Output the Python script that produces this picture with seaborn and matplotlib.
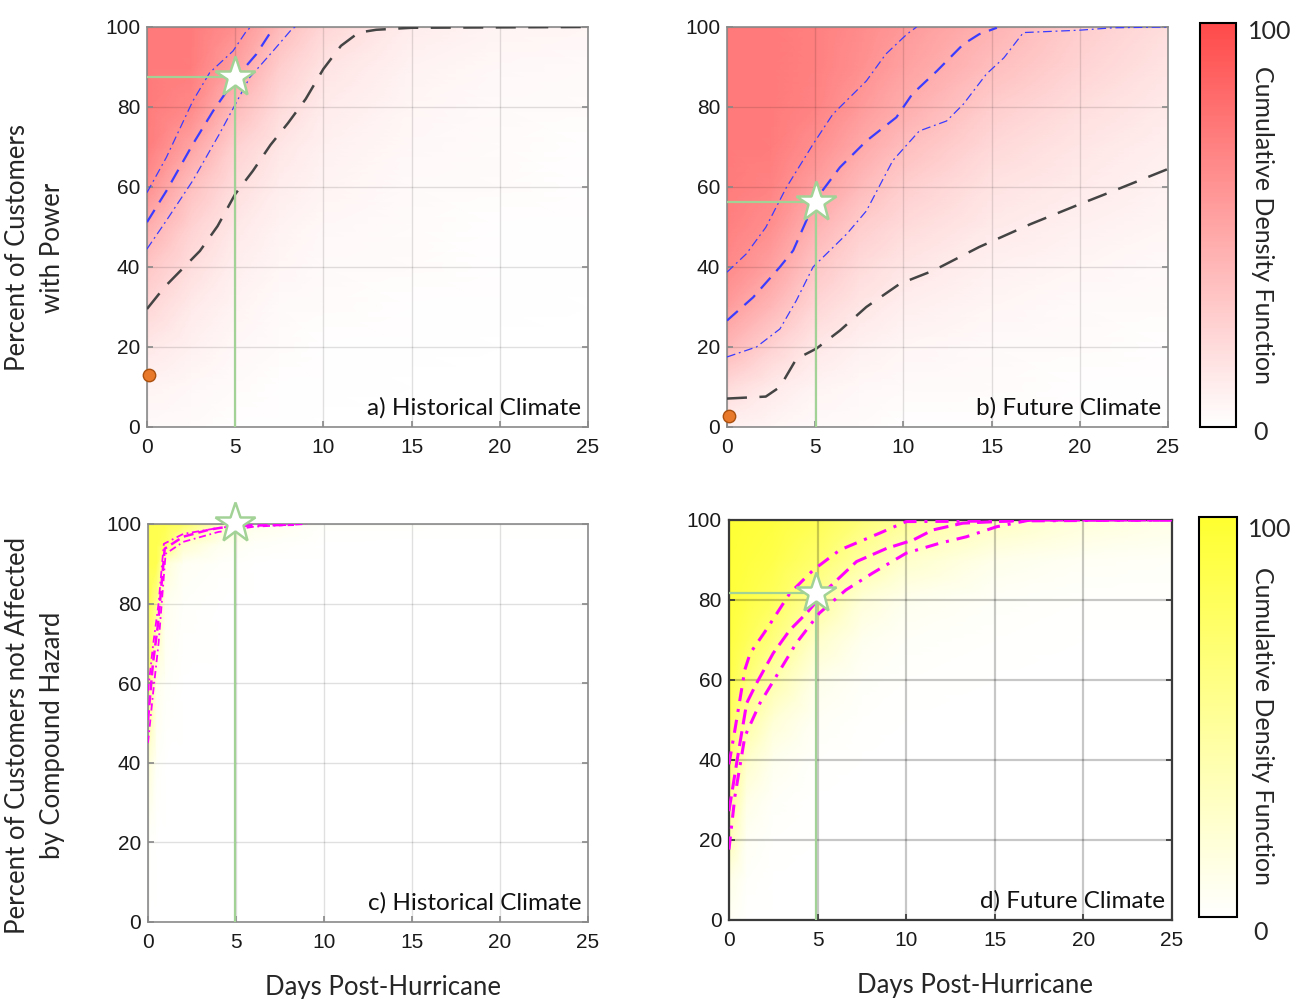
import matplotlib.pyplot as plt
import numpy as np
import seaborn as sns
from matplotlib.colors import LinearSegmentedColormap

# ---- percentile curves (days, percent) ----
# a) historical, customers with power
a_black_x = [0, 1, 2, 3, 4, 5, 6, 7, 8, 9, 10, 11, 12, 13, 15, 25]
a_black_y = [29.5, 35, 39.5, 44, 50.2, 58.2, 64, 70.5, 76, 82, 89.5, 95.3, 98.6, 99.3, 99.8, 100]
a_med_x = [0, 1.1, 2.6, 3.75, 5.07, 6.2, 7.2]
a_med_y = [51.2, 59, 70.7, 79, 87.4, 93.2, 100]
a_up_x = [0, 1.1, 2.6, 3.56, 4.88, 5.64, 5.9]
a_up_y = [58.6, 67.4, 81.5, 88.6, 94, 99, 100]
a_lo_x = [0, 1.1, 2.6, 4.1, 5.83, 7.15, 8.2, 8.4]
a_lo_y = [44.5, 51.6, 61.6, 73.2, 87.4, 94, 99.4, 100]

# b) future, customers with power
b_black_x = [0, 2.2, 3, 3.93, 5.07, 6.4, 7.9, 9.8, 11.7, 14.3, 17.2, 20, 21.9, 25]
b_black_y = [7.1, 7.6, 10, 17, 19.6, 24.1, 30, 35.8, 39.1, 45, 50.7, 55.7, 59, 64.5]
b_med_x = [0, 1.48, 3, 3.75, 4.5, 5.26, 6.4, 7.9, 9.6, 10.5, 11.9, 13.4, 14.3, 15.3]
b_med_y = [26.6, 32.4, 40, 44.1, 51.6, 58.2, 64.9, 71.5, 77.4, 83.2, 89, 95.7, 98.2, 99.8]
b_up_x = [0, 1.1, 2.2, 3.37, 4.88, 6, 7.9, 9, 10.2, 10.75]
b_up_y = [38.7, 43.3, 49.9, 59.9, 70.7, 78.2, 86.5, 93.2, 98.2, 100]
b_lo_x = [0, 1.67, 3, 3.93, 4.88, 6.8, 7.9, 9.4, 10.9, 12.45, 13.4, 14.7, 15.7, 16.8, 20, 21.9, 25]
b_lo_y = [17.5, 20, 24.5, 31.6, 40, 48.3, 54, 66.6, 74, 76.5, 80.7, 88.2, 92.3, 98.6, 99.2, 99.8, 100]

# c) historical, customers not affected by compound hazard
c_med_x = [0, 0.28, 0.57, 0.95, 2, 3.5, 4.8, 8.3]
c_med_y = [50.7, 64.9, 74.9, 93.8, 96.8, 98.6, 99.5, 99.8]
c_up_x = [0, 0.3, 0.6, 0.9, 2, 4, 6]
c_up_y = [58, 70, 80, 95, 97.5, 99, 100]
c_lo_x = [0, 0.3, 0.6, 1.0, 2, 4, 6, 9]
c_lo_y = [45, 58, 70, 92.5, 95.5, 98, 99.3, 100]

# d) future, customers not affected by compound hazard
d_med_x = [0, 0.53, 1.0, 1.56, 2.5, 3.44, 4.38, 5.5, 7.2, 8.9, 10.4, 11.5, 13.2, 17, 25]
d_med_y = [27.2, 41.8, 54.2, 59.2, 66.7, 72.5, 76.7, 82.5, 89.6, 92.9, 95, 97.5, 99.2, 100, 100]
d_up_x = [0, 0.34, 0.9, 1.2, 2.1, 3.44, 4.76, 6.26, 8.5, 10, 25]
d_up_y = [38.9, 47.6, 62.6, 66.7, 72.5, 81.7, 87.5, 92.5, 96.7, 99.6, 100]
d_lo_x = [0, 0.34, 0.9, 1.75, 2.9, 3.8, 5.1, 6.6, 8.1, 10, 11.9, 13.4, 15.1, 17, 25]
d_lo_y = [17.6, 31, 45.9, 54.2, 62.6, 69.2, 76.7, 82.5, 86.7, 91.7, 94.2, 95.8, 98.3, 100, 100]

# observed / reference points
stars = {"a": (4.98, 87.5), "b": (5.03, 56.2), "c": (4.92, 100.2), "d": (4.94, 81.7)}
dots = {"a": (0.1, 12.9), "b": (0.1, 2.7)}

# ---- background CDF shading (0-100), one column per day node, pct from bottom up ----
a_days = [0, 2.5, 5, 7.5, 10, 15, 20, 25]
a_pcts = [0, 10, 20, 30, 40, 50, 60, 70, 80, 90, 100]
a_field = [
    [3, 6, 13, 22, 32, 45, 62, 72, 73, 73, 73],
    [2, 4, 8, 12, 18, 25, 35, 50, 65, 72, 73],
    [1, 2, 4, 6, 9, 13, 18, 25, 38, 52, 62],
    [1, 1, 2, 3, 5, 7, 10, 14, 20, 28, 38],
    [0, 1, 1, 2, 3, 4, 6, 8, 11, 15, 22],
    [0, 0, 1, 1, 2, 2, 3, 4, 5, 7, 10],
    [0, 0, 0, 1, 1, 1, 2, 2, 3, 4, 6],
    [0, 0, 0, 0, 1, 1, 1, 1, 2, 3, 5],
]

b_days = [0, 2.5, 5, 7.5, 10, 15, 20, 25]
b_pcts = [0, 10, 20, 30, 40, 50, 60, 70, 80, 90, 100]
b_field = [
    [8, 20, 40, 55, 65, 70, 72, 73, 73, 73, 73],
    [5, 12, 25, 40, 52, 62, 68, 72, 73, 73, 73],
    [3, 6, 13, 22, 32, 42, 53, 62, 68, 70, 70],
    [2, 4, 8, 14, 20, 28, 38, 48, 56, 62, 64],
    [1, 3, 5, 9, 14, 20, 27, 36, 45, 52, 56],
    [1, 2, 3, 5, 8, 12, 16, 21, 28, 36, 42],
    [0, 1, 2, 3, 5, 8, 11, 14, 18, 24, 28],
    [0, 1, 1, 2, 3, 5, 7, 9, 12, 15, 18],
]

c_days = [0, 0.5, 1, 2, 4, 6, 10, 25]
c_pcts = [0, 20, 40, 60, 80, 90, 95, 100]
c_field = [
    [0, 2, 20, 70, 85, 85, 85, 85],
    [0, 0, 3, 10, 50, 85, 85, 85],
    [0, 0, 0, 3, 8, 20, 75, 85],
    [0, 0, 0, 0, 2, 5, 25, 75],
    [0, 0, 0, 0, 0, 2, 8, 30],
    [0, 0, 0, 0, 0, 0, 3, 10],
    [0, 0, 0, 0, 0, 0, 0, 2],
    [0, 0, 0, 0, 0, 0, 0, 0],
]

d_days = [0, 1, 2.5, 5, 7.5, 10, 15, 20, 25]
d_pcts = [0, 10, 20, 30, 40, 50, 60, 70, 80, 90, 100]
d_field = [
    [5, 12, 35, 55, 70, 80, 88, 92, 95, 96, 97],
    [0, 2, 5, 12, 25, 45, 65, 80, 88, 92, 95],
    [0, 0, 1, 3, 8, 20, 40, 62, 78, 87, 92],
    [0, 0, 0, 0, 1, 4, 10, 25, 48, 70, 82],
    [0, 0, 0, 0, 0, 1, 3, 8, 18, 45, 65],
    [0, 0, 0, 0, 0, 0, 1, 3, 8, 25, 50],
    [0, 0, 0, 0, 0, 0, 0, 1, 3, 10, 30],
    [0, 0, 0, 0, 0, 0, 0, 0, 1, 5, 18],
    [0, 0, 0, 0, 0, 0, 0, 0, 1, 3, 12],
]

panel_titles = {"a": "a) Historical Climate", "b": "b) Future Climate",
                "c": "c) Historical Climate", "d": "d) Future Climate"}

sns.set_theme(style="white")
plt.rcParams["font.family"] = ["Liberation Sans", "DejaVu Sans"]
LABEL_FONT = ["Lato", "DejaVu Sans"]

reds = LinearSegmentedColormap.from_list("cdf_red", ["#ffffff", "#ff4a4a"])
yellows = LinearSegmentedColormap.from_list("cdf_yel", ["#ffffff", "#ffff30"])

GREEN = "#a2d296"
BLUE = "#3a3cff"
MAGENTA = "#ff00ff"

fig = plt.figure(figsize=(13.04, 9.99), dpi=100)
axes = {
    "a": fig.add_axes([0.1127, 0.5726, 0.3382, 0.4004]),
    "b": fig.add_axes([0.5575, 0.5726, 0.3382, 0.4004]),
    "c": fig.add_axes([0.1135, 0.0771, 0.3374, 0.3984]),
    "d": fig.add_axes([0.5590, 0.0791, 0.3397, 0.4004]),
}
fields = {
    "a": (a_days, a_pcts, a_field, reds),
    "b": (b_days, b_pcts, b_field, reds),
    "c": (c_days, c_pcts, c_field, yellows),
    "d": (d_days, d_pcts, d_field, yellows),
}

meshes = {}
for key, ax in axes.items():
    days, pcts, field, cmap = fields[key]
    X, Y = np.meshgrid(days, pcts)
    C = np.array(field, dtype=float).T
    meshes[key] = ax.pcolormesh(X, Y, C, cmap=cmap, vmin=0, vmax=100,
                                shading="gouraud", zorder=0.5)
    ax.set_xlim(0, 25)
    ax.set_ylim(0, 100)
    ax.set_xticks([0, 5, 10, 15, 20, 25])
    ax.set_yticks([0, 20, 40, 60, 80, 100])
    ax.set_axisbelow("line")
    dark = key == "d"
    ax.grid(True, color="#000000", alpha=0.22 if dark else 0.12, lw=1.6 if dark else 1.0)
    for sp in ax.spines.values():
        sp.set_color("#3a3a3a" if dark else "#8a8a8a")
        sp.set_linewidth(1.6 if dark else 1.2)
    ax.tick_params(direction="in", length=4, width=1.2, labelsize=15,
                   colors="#333333" if dark else "#888888", labelcolor="#1a1a1a",
                   left=True, right=True, bottom=True, top=False)
    ax.tick_params(axis="x", pad=8)
    ax.tick_params(axis="y", pad=5)

# percentile curves
def draw(ax, x, y, color, lw, dashes):
    sns.lineplot(x=x, y=y, ax=ax, color=color, lw=lw, dashes=dashes,
                 sort=False, estimator=None, zorder=3)

BLACK_DASH = (8, 5)
draw(axes["a"], a_black_x, a_black_y, "#444444", 1.8, BLACK_DASH)
draw(axes["a"], a_med_x, a_med_y, BLUE, 1.6, (6.5, 4))
draw(axes["a"], a_up_x, a_up_y, BLUE, 0.9, (7, 3, 1.5, 3))
draw(axes["a"], a_lo_x, a_lo_y, BLUE, 0.9, (7, 3, 1.5, 3))

draw(axes["b"], b_black_x, b_black_y, "#444444", 1.8, BLACK_DASH)
draw(axes["b"], b_med_x, b_med_y, BLUE, 1.6, (6.5, 4))
draw(axes["b"], b_up_x, b_up_y, BLUE, 0.9, (7, 3, 1.5, 3))
draw(axes["b"], b_lo_x, b_lo_y, BLUE, 0.9, (7, 3, 1.5, 3))

draw(axes["c"], c_med_x, c_med_y, MAGENTA, 1.8, (4, 2))
draw(axes["c"], c_up_x, c_up_y, MAGENTA, 1.3, (4, 2, 1, 2))
draw(axes["c"], c_lo_x, c_lo_y, MAGENTA, 1.3, (4, 2, 1, 2))

draw(axes["d"], d_med_x, d_med_y, MAGENTA, 2.2, (4.9, 2.3))
draw(axes["d"], d_up_x, d_up_y, MAGENTA, 2.2, (4.3, 2.6, 1, 2.6))
draw(axes["d"], d_lo_x, d_lo_y, MAGENTA, 2.2, (4.3, 2.6, 1, 2.6))

# reference star with guide lines
for key, ax in axes.items():
    sx, sy = stars[key]
    if sy < 100:
        ax.plot([0, sx], [sy, sy], color=GREEN, lw=1.6, zorder=4)
    ax.plot([sx, sx], [0, min(sy, 100)], color=GREEN, lw=1.6, zorder=4)
    ax.plot([sx], [sy], marker="*", ms=30, mfc="white", mec=GREEN, mew=1.8,
            zorder=6, clip_on=False)
    ax.text(0.985, 0.02, panel_titles[key], transform=ax.transAxes, ha="right",
            va="bottom", fontsize=17.5, family=LABEL_FONT, color="#111111", zorder=7)

for key, (dx, dy) in dots.items():
    sns.scatterplot(x=[dx], y=[dy], ax=axes[key], s=80, color="#e8782a",
                    edgecolor="#a9500f", linewidth=1.0, zorder=7, clip_on=False)

# colorbars
cax_top = fig.add_axes([0.9202, 0.5726, 0.0276, 0.4044])
cax_bot = fig.add_axes([0.9195, 0.0821, 0.0291, 0.4004])
for cax, mesh, ytop, ybot, ymid in [
    (cax_top, meshes["a"], 0.968, 0.567, 0.775),
    (cax_bot, meshes["d"], 0.470, 0.067, 0.273),
]:
    cb = fig.colorbar(mesh, cax=cax)
    cb.set_ticks([])
    cb.outline.set_edgecolor("black")
    cb.outline.set_linewidth(1.5)
    fig.text(0.957, ytop, "100", fontsize=18, family=LABEL_FONT, va="center", ha="left")
    fig.text(0.961, ybot, "0", fontsize=18, family=LABEL_FONT, va="center", ha="left")
    fig.text(0.968, ymid, "Cumulative Density Function", fontsize=18, family=LABEL_FONT,
             rotation=270, va="center", ha="center")

# axis labels
fig.text(0.027, 0.752, "Percent of Customers\nwith Power", rotation=90, fontsize=18.5,
         family=LABEL_FONT, ha="center", va="center", linespacing=1.5)
fig.text(0.027, 0.264, "Percent of Customers not Affected\nby Compound Hazard", rotation=90,
         fontsize=18.5, family=LABEL_FONT, ha="center", va="center", linespacing=1.5)
fig.text(0.294, 0.012, "Days Post-Hurricane", fontsize=18.5, family=LABEL_FONT,
         ha="center", va="center")
fig.text(0.748, 0.014, "Days Post-Hurricane", fontsize=18.5, family=LABEL_FONT,
         ha="center", va="center")

fig.savefig("out.png", dpi=100)
